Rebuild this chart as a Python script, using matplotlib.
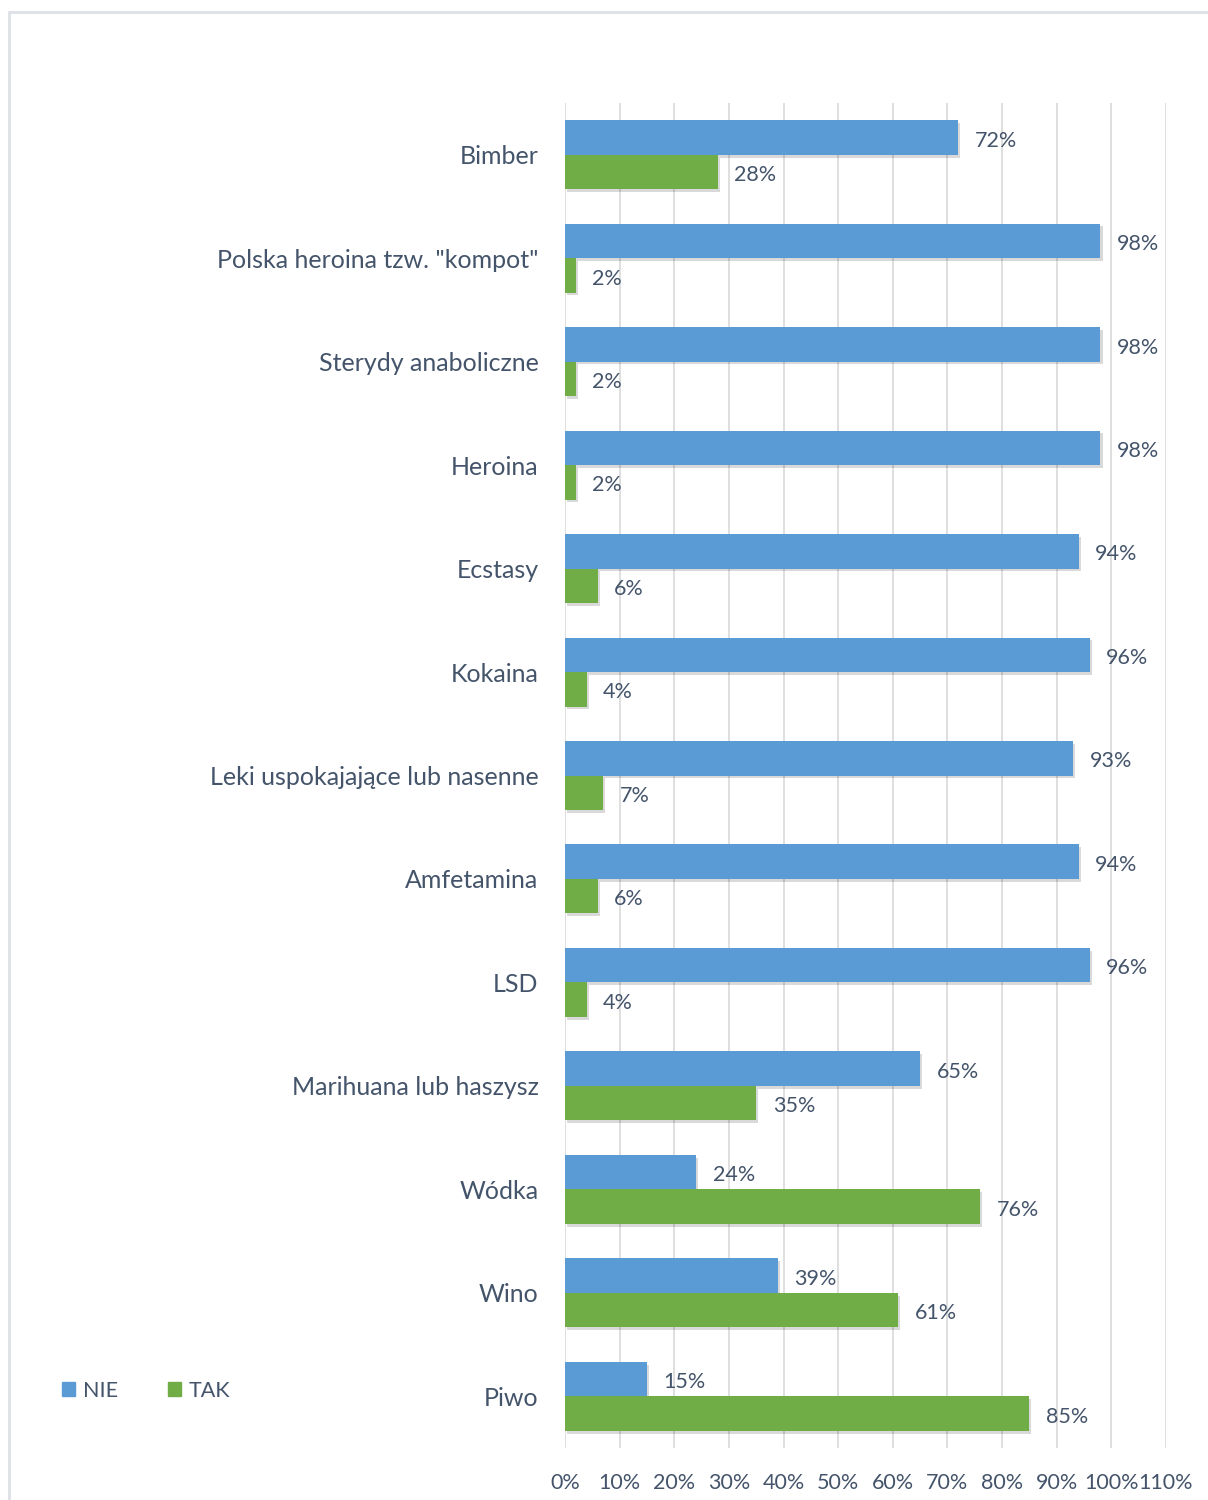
import matplotlib
matplotlib.use('Agg')
import matplotlib.pyplot as plt
import matplotlib.patheffects as pe
from matplotlib.patches import Rectangle
import numpy as np

plt.rcParams['font.family'] = ['Lato', 'DejaVu Sans']

# dane
kategorie = ['Bimber', 'Polska heroina tzw. "kompot"', 'Sterydy anaboliczne', 'Heroina',
             'Ecstasy', 'Kokaina', 'Leki uspokajające lub nasenne', 'Amfetamina', 'LSD',
             'Marihuana lub haszysz', 'Wódka', 'Wino', 'Piwo']
nie = [72, 98, 98, 98, 94, 96, 93, 94, 96, 65, 24, 39, 15]
tak = [28, 2, 2, 2, 6, 4, 7, 6, 4, 35, 76, 61, 85]

kolor_nie = '#5B9BD5'
kolor_tak = '#70AD47'
kolor_tekst = '#44546A'

fig = plt.figure(figsize=(12.08, 15), dpi=100)
ax = fig.add_axes([565/1208, 1 - 1448/1500, (1166-565)/1208, (1448-103)/1500])

y = np.arange(len(kategorie))
h = 1/3
cien = [pe.SimplePatchShadow(offset=(1.5, -2), shadow_rgbFace='#000000', alpha=0.15), pe.Normal()]

b1 = ax.barh(y - h/2, nie, height=h, color=kolor_nie, label='NIE', zorder=3)
b2 = ax.barh(y + h/2, tak, height=h, color=kolor_tak, label='TAK', zorder=3)
for b in list(b1) + list(b2):
    b.set_path_effects(cien)

for i in range(len(kategorie)):
    ax.text(nie[i] + 3.0, y[i] - h/2 + 0.03, f'{nie[i]}%', va='center', ha='left',
            fontsize=15.5, color=kolor_tekst)
    ax.text(tak[i] + 3.0, y[i] + h/2 + 0.03, f'{tak[i]}%', va='center', ha='left',
            fontsize=15.5, color=kolor_tekst)

ax.set_xlim(0, 110)
ax.set_ylim(len(kategorie) - 0.5, -0.5)
ax.set_xticks(range(0, 111, 10))
ax.set_xticklabels([f'{v}%' for v in range(0, 111, 10)], fontsize=15.5, color=kolor_tekst)
ax.set_yticks(y)
ax.set_yticklabels(kategorie, fontsize=18, color=kolor_tekst)
ax.tick_params(axis='both', length=0)
ax.tick_params(axis='y', pad=19)
ax.tick_params(axis='x', pad=18)
ax.grid(axis='x', color='#D9D9D9', linewidth=1.2, zorder=0)
for s in ax.spines.values():
    s.set_visible(False)

handles = [Rectangle((0, 0), 1, 1, color=kolor_nie), Rectangle((0, 0), 1, 1, color=kolor_tak)]
fig.legend(handles, ['NIE', 'TAK'], loc='center left', bbox_to_anchor=(47/1208, 1 - 1391/1500),
           ncol=2, frameon=False, fontsize=15.5, handlelength=0.62, handleheight=0.62,
           handletextpad=0.35, columnspacing=2.3, labelcolor=kolor_tekst, borderpad=0.2)

# ramka
fig.add_artist(Rectangle((9/1208, -0.01), 1.2, 1 - 12/1500 + 0.01, transform=fig.transFigure,
                         fill=False, edgecolor='#DDE1E6', linewidth=2))

fig.savefig('out.png', dpi=100)
